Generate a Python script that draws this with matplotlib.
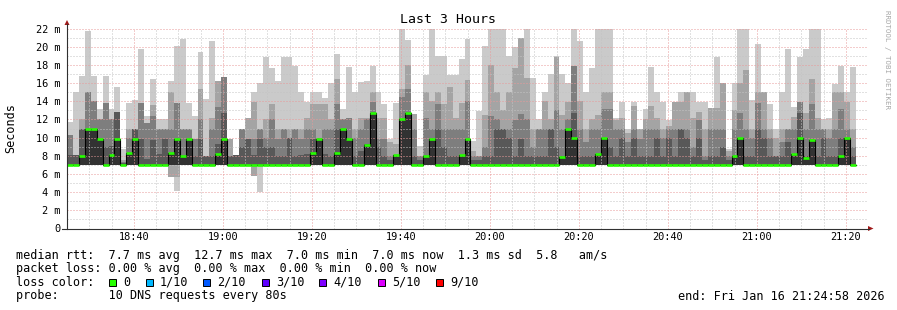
"""SmokePing style latency chart: last 3 hours of DNS probe results."""
import numpy as np
import matplotlib
matplotlib.use("Agg")
import matplotlib.pyplot as plt
from matplotlib.patches import Polygon, Rectangle

plt.rcParams["font.family"] = ["DejaVu Sans Mono"]

W, H = 897, 310

# time axis in minutes after midnight, one rrd step = 80 s
t_start = 18 * 60 + 24 + 58 / 60
t_end = t_start + 180
step = 80 / 60

# smoke: sorted ping values per step (ms); p10 = slowest ping
p10 = [11.7, 15.0, 16.8, 21.7, 16.8, 13.2, 16.8, 13.2, 15.6, 8.7,
       13.8, 14.1, 19.7, 12.4, 16.4, 12.1, 12.1, 16.2, 20.1, 20.9,
       13.8, 12.4, 19.4, 14.3, 20.6, 16.2, 16.7, 9.8, 8.1, 11.0,
       12.2, 15.0, 16.0, 18.9, 17.7, 16.2, 18.9, 18.9, 17.9, 15.0,
       13.9, 15.0, 15.0, 14.4, 16.0, 19.2, 13.1, 17.8, 15.0, 16.1,
       16.2, 17.9, 15.0, 13.7, 9.9, 13.8, 22.0, 20.7, 12.6, 9.1,
       16.9, 22.0, 19.0, 19.0, 16.9, 16.9, 18.6, 20.9, 9.6, 12.9,
       20.1, 22.0, 22.0, 22.0, 19.0, 20.0, 21.0, 22.0, 16.6, 12.1,
       15.0, 17.0, 19.0, 17.0, 16.0, 22.0, 20.6, 15.0, 17.7, 22.0,
       22.0, 22.0, 12.2, 13.9, 11.0, 13.9, 11.0, 13.2, 17.8, 15.0,
       13.9, 11.9, 13.9, 15.0, 15.0, 15.0, 13.9, 13.9, 13.3, 18.9,
       16.0, 8.8, 16.0, 22.0, 22.0, 14.1, 20.3, 15.0, 13.7, 11.0,
       15.0, 19.7, 13.4, 18.9, 19.8, 22.0, 22.0, 12.1, 12.2, 15.9,
       17.9, 15.0, 17.8]
p9 = [10.3, 8.1, 12.0, 15.0, 14.0, 12.1, 13.8, 12.1, 12.8, 7.5,
      11.0, 11.0, 13.8, 11.6, 13.6, 11.0, 11.0, 15.0, 13.8, 11.0,
      11.0, 9.8, 15.4, 8.0, 12.2, 16.2, 16.7, 9.8, 8.1, 11.0,
      12.2, 13.9, 11.0, 12.0, 13.7, 11.0, 11.0, 11.0, 11.0, 11.0,
      12.2, 13.7, 13.7, 13.7, 12.0, 16.5, 12.1, 12.2, 11.0, 12.2,
      12.2, 15.0, 12.2, 12.2, 9.5, 9.3, 15.3, 18.0, 12.6, 8.0,
      15.0, 14.0, 15.0, 13.7, 15.6, 12.2, 13.8, 16.3, 8.5, 8.0,
      12.5, 18.0, 15.0, 13.0, 15.0, 17.7, 21.0, 16.6, 11.0, 11.0,
      14.0, 12.0, 18.9, 12.5, 13.9, 17.9, 14.0, 11.0, 12.0, 12.5,
      15.0, 15.0, 11.9, 12.2, 10.5, 13.5, 11.0, 12.0, 13.5, 12.2,
      11.0, 11.3, 13.9, 13.9, 15.0, 12.2, 12.8, 11.0, 13.3, 13.3,
      16.0, 8.5, 13.0, 16.0, 17.4, 11.0, 15.0, 15.0, 11.0, 10.0,
      11.0, 11.0, 12.3, 13.9, 12.7, 16.5, 12.2, 11.0, 11.0, 15.0,
      15.0, 13.9, 11.0]
p8 = [10.3, 8.1, 11.0, 15.0, 14.0, 12.1, 13.8, 12.1, 12.8, 7.3,
      10.0, 11.0, 13.8, 11.6, 12.4, 11.0, 11.0, 11.0, 13.8, 11.0,
      11.0, 9.8, 12.0, 8.0, 11.0, 13.4, 16.7, 8.0, 8.1, 11.0,
      9.8, 9.8, 11.0, 10.0, 12.0, 9.8, 11.0, 10.0, 11.0, 9.9,
      11.0, 11.0, 10.0, 11.0, 11.0, 13.7, 12.1, 12.2, 10.0, 11.0,
      12.0, 13.9, 9.9, 9.9, 8.0, 8.1, 14.5, 15.3, 11.0, 8.0,
      12.2, 11.0, 13.7, 11.0, 11.0, 11.0, 11.0, 14.0, 8.0, 8.0,
      9.0, 12.4, 12.0, 11.0, 11.0, 11.9, 12.6, 12.0, 9.0, 11.0,
      11.0, 11.0, 13.0, 11.0, 12.0, 17.9, 11.0, 9.5, 11.0, 11.0,
      13.1, 13.2, 11.0, 11.0, 9.5, 11.0, 9.9, 11.0, 11.0, 11.0,
      10.0, 11.0, 11.0, 11.0, 11.0, 9.0, 11.9, 8.0, 11.0, 11.0,
      11.0, 8.0, 11.0, 12.7, 11.0, 10.0, 13.8, 11.0, 10.0, 8.0,
      9.5, 11.0, 11.0, 13.9, 11.0, 13.7, 11.0, 11.0, 10.0, 11.0,
      13.1, 11.0, 9.0]
p7 = [8.1, 8.1, 11.0, 11.0, 11.0, 9.9, 9.0, 9.1, 12.8, 7.2,
      8.3, 11.0, 9.9, 7.7, 9.7, 8.2, 9.8, 8.3, 9.9, 8.0,
      9.9, 8.0, 9.8, 8.0, 8.0, 9.3, 12.7, 8.0, 8.1, 9.0,
      9.8, 8.1, 9.9, 9.0, 9.0, 8.0, 8.0, 10.0, 8.0, 8.1,
      8.2, 9.8, 9.8, 8.2, 8.0, 11.0, 11.0, 9.9, 8.0, 8.5,
      9.3, 12.7, 9.0, 8.0, 7.5, 8.1, 12.0, 12.7, 8.0, 7.5,
      8.0, 9.9, 11.0, 9.0, 8.0, 8.0, 8.1, 9.9, 7.5, 7.5,
      8.0, 8.0, 11.0, 11.0, 10.0, 8.0, 9.8, 8.0, 8.0, 8.0,
      8.0, 11.0, 9.0, 8.0, 11.0, 12.7, 8.0, 8.0, 8.0, 8.2,
      10.0, 9.0, 8.0, 10.0, 8.0, 10.0, 8.0, 8.0, 8.0, 10.0,
      8.0, 10.0, 8.0, 11.0, 10.0, 8.0, 10.0, 7.5, 8.0, 8.0,
      9.0, 7.5, 8.0, 10.0, 8.0, 8.0, 11.0, 10.0, 8.0, 8.0,
      8.0, 9.5, 8.2, 12.7, 8.0, 9.7, 8.0, 10.0, 8.0, 8.0,
      10.0, 10.0, 8.0]
median = [7.0, 7.0, 8.0, 11.0, 11.0, 9.9, 7.0, 8.1, 9.9, 7.0,
          8.3, 9.9, 7.0, 7.0, 7.0, 7.0, 7.0, 8.3, 9.9, 8.0,
          9.9, 7.0, 7.0, 7.0, 7.0, 8.2, 9.9, 7.0, 7.0, 7.0,
          7.0, 7.0, 7.0, 7.0, 7.0, 7.0, 7.0, 7.0, 7.0, 7.0,
          7.0, 8.3, 9.8, 7.0, 7.0, 8.3, 11.0, 9.9, 7.0, 7.0,
          9.2, 12.7, 7.0, 7.0, 7.0, 8.1, 12.0, 12.7, 7.0, 7.0,
          8.0, 9.9, 7.0, 7.0, 7.0, 7.0, 8.1, 9.9, 7.0, 7.0,
          7.0, 7.0, 7.0, 7.0, 7.0, 7.0, 7.0, 7.0, 7.0, 7.0,
          7.0, 7.0, 7.0, 7.9, 11.0, 10.0, 7.0, 7.0, 7.0, 8.2,
          10.0, 7.0, 7.0, 7.0, 7.0, 7.0, 7.0, 7.0, 7.0, 7.0,
          7.0, 7.0, 7.0, 7.0, 7.0, 7.0, 7.0, 7.0, 7.0, 7.0,
          7.0, 7.0, 8.0, 10.0, 7.0, 7.0, 7.0, 7.0, 7.0, 7.0,
          7.0, 7.0, 8.2, 10.0, 7.8, 9.7, 7.0, 7.0, 7.0, 7.0,
          8.0, 10.0, 7.0]
base_rtt = 7.0                      # fastest ping at nearly every step
low_steps = [17, 18, 31, 32]        # steps where the fastest pings were lower
low_p1 = [5.7, 4.1, 5.8, 4.0]
low_p2 = [5.7, 5.7, 5.8, 7.0]

smoke_colors = ["#cacaca", "#a4a4a4", "#7e7e7e", "#585858", "#323232"]
loss_labels = ["0", "1/10", "2/10", "3/10", "4/10", "5/10", "9/10"]
loss_colors = ["#26ff00", "#00b8ff", "#0059ff", "#5e00ff", "#7e00ff",
               "#dd00ff", "#ff0000"]

y_ticks = list(range(0, 23, 2))
y_labels = ["0"] + [f"{v} m" for v in y_ticks[1:]]
x_ticks = list(range(18 * 60 + 40, 21 * 60 + 21, 20))
x_labels = [f"{m // 60}:{m % 60:02d}" for m in x_ticks]

stats_line = "median rtt:  7.7 ms avg  12.7 ms max  7.0 ms min  7.0 ms now  1.3 ms sd  5.8   am/s"
loss_line = "packet loss: 0.00 % avg  0.00 % max  0.00 % min  0.00 % now"
probe_line = "probe:       10 DNS requests every 80s"
end_line = "end: Fri Jan 16 21:24:58 2026"

# ---- figure ----
fig = plt.figure(figsize=(W / 100, H / 100), dpi=100)
fig.patch.set_facecolor("white")
ax = fig.add_axes([67 / W, (H - 228.5) / H, 801 / W, 200 / H])
ax.set_xlim(t_start, t_end)
ax.set_ylim(0, 22)
ax.set_facecolor("white")

n = len(median)
edges = t_start + step * np.arange(n + 1)


def stepped(v):
    v = np.asarray(v, dtype=float)
    return np.append(v, v[-1])


base = np.full(n, base_rtt)
p1 = base.copy()
p1[low_steps] = low_p1
p2 = base.copy()
p2[low_steps] = low_p2

layers = [(p1, p10), (p2, p9), (base, p8), (base, p7), (base, median)]
for (lo, hi), c in zip(layers, smoke_colors):
    ax.fill_between(edges, stepped(lo), stepped(hi), step="post",
                    color=c, linewidth=0, zorder=1)

# grid (drawn over the smoke, like rrdtool)
dots = (0, (1, 2))
for v in range(1, 23):
    major = v % 2 == 0
    ax.axhline(v, color="#e99a9a" if major else "#c4c4c4", lw=0.72,
               ls=dots, zorder=3)
for m in range(18 * 60 + 25, 21 * 60 + 21, 5):
    major = m % 20 == 0
    ax.axvline(m, color="#e99a9a" if major else "#c4c4c4", lw=0.72,
               ls=dots, zorder=3)

# median: black step outline, green (0 loss) marker on each step
ax.step(edges, stepped(median), where="post", color="black", lw=0.8, zorder=4)
ax.hlines(median, edges[:-1], edges[1:], colors=loss_colors[0], lw=1.9,
          zorder=5, capstyle="butt")

for s in ax.spines.values():
    s.set_visible(False)
ax.set_yticks(y_ticks)
ax.set_yticklabels(y_labels)
ax.set_xticks(x_ticks)
ax.set_xticklabels(x_labels)
ax.tick_params(axis="both", length=0, labelsize=7.35, colors="black")
ax.tick_params(axis="y", pad=5)
ax.tick_params(axis="x", pad=2.5)

# ---- overlay in pixel units for axes arrows, titles and legend ----
ov = fig.add_axes([0, 0, 1, 1], zorder=10)
ov.set_xlim(0, W)
ov.set_ylim(H, 0)
ov.axis("off")
ov.patch.set_alpha(0)

ov.plot([67, 67], [228.5, 24], color="#303030", lw=0.8)
ov.plot([62, 869], [228.5, 228.5], color="#303030", lw=0.8)
ov.add_patch(Polygon([[64.5, 25], [69.5, 25], [67, 20]], closed=True,
                     color="#a01818", lw=0))
ov.add_patch(Polygon([[868, 226], [868, 231], [873.5, 228.5]], closed=True,
                     color="#a01818", lw=0))

ov.text(448.5, 19.5, "Last 3 Hours", ha="center", va="center", fontsize=9.5)
ov.text(11, 128, "Seconds", ha="center", va="center", rotation=90,
        fontsize=8.45)
ov.text(887, 60, "RRDTOOL / TOBI OETIKER", ha="center", va="center",
        rotation=270, fontsize=5.3, color="#a8a8a8")

legend_kw = dict(ha="left", va="center", fontsize=8.45)
ov.text(16, 255, stats_line, **legend_kw)
ov.text(16, 268.5, loss_line, **legend_kw)
ov.text(16, 282, "loss color:", **legend_kw)
box_x = [109, 146, 203, 262, 319, 378, 436]
for bx, lab, col in zip(box_x, loss_labels, loss_colors):
    ov.add_patch(Rectangle((bx, 278.5), 7, 7, facecolor=col,
                           edgecolor="black", lw=0.7))
    ov.text(bx + 14, 282, lab, **legend_kw)
ov.text(16, 296, probe_line, **legend_kw)
ov.text(678, 296, end_line, **legend_kw)

fig.savefig("out.png", dpi=100)
